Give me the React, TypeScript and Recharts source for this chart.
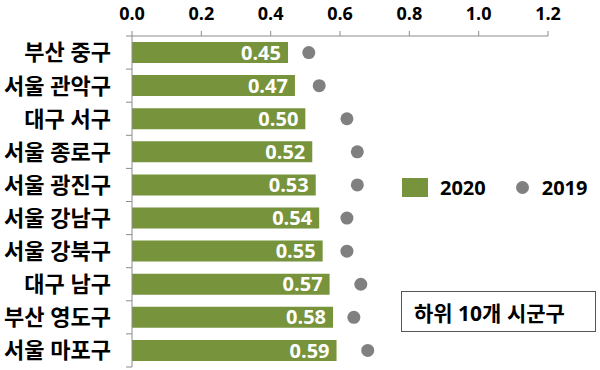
import React from 'react';
import { ComposedChart, Bar, Line, XAxis, YAxis, LabelList } from 'recharts';

const categories = ['부산 중구', '서울 관악구', '대구 서구', '서울 종로구', '서울 광진구', '서울 강남구', '서울 강북구', '대구 남구', '부산 영도구', '서울 마포구'];
const values2020 = [0.45, 0.47, 0.5, 0.52, 0.53, 0.54, 0.55, 0.57, 0.58, 0.59];
const values2019 = [0.51, 0.54, 0.62, 0.65, 0.65, 0.62, 0.62, 0.66, 0.64, 0.68];
const xTicks = [0, 0.2, 0.4, 0.6, 0.8, 1.0, 1.2];
const seriesNames = ['2020', '2019'];
const boxTitle = '하위 10개 시군구';

const data = categories.map((name, i) => ({ name, v2020: values2020[i], v2019: values2019[i] }));

const FONT = "'Open Sans', 'Noto Sans CJK KR', sans-serif";
const GREEN = '#77933C';
const GRAY = '#808080';
const AXIS = '#8c8c8c';

const CategoryTick = (props: any) => {
  const { x, y, payload, index } = props;
  const half = payload && typeof payload.offset === 'number' && payload.offset > 0 ? payload.offset : 16.5;
  const ax = x + 21;
  return (
    <g>
      <text x={x} y={y} dy="0.36em" textAnchor="end" fontFamily={FONT} fontSize={22} fontWeight={700} fill="#000">
        {payload.value}
      </text>
      <line x1={ax - 6} x2={ax} y1={y - half} y2={y - half} stroke={AXIS} strokeWidth={1} />
      {index === categories.length - 1 && (
        <line x1={ax - 6} x2={ax} y1={y + half} y2={y + half} stroke={AXIS} strokeWidth={1} />
      )}
    </g>
  );
};

export default function App() {
  return (
    <div style={{ position: 'absolute', left: 0, top: 0, width: 600, height: 370, background: '#fff' }}>
      <ComposedChart
        width={600}
        height={370}
        data={data}
        layout="vertical"
        margin={{ top: 0, right: 52, bottom: 3, left: 0 }}
      >
        <XAxis
          type="number"
          orientation="top"
          domain={[0, 1.2]}
          ticks={xTicks}
          tickFormatter={(v: number) => v.toFixed(1)}
          height={36}
          tickSize={5}
          tickMargin={11}
          axisLine={{ stroke: AXIS }}
          tickLine={{ stroke: AXIS }}
          tick={{ fill: '#000', fontFamily: FONT, fontSize: 18, fontWeight: 700 }}
          interval={0}
        />
        <YAxis
          type="category"
          dataKey="name"
          width={132}
          tickSize={0}
          tickMargin={21}
          tickLine={false}
          axisLine={{ stroke: AXIS }}
          tick={<CategoryTick />}
          interval={0}
        />
        <Bar dataKey="v2020" name={seriesNames[0]} fill={GREEN} barSize={21} isAnimationActive={false}>
          <LabelList
            dataKey="v2020"
            position="insideRight"
            offset={7}
            fill="#fff"
            fontFamily={FONT}
            fontSize={20}
            fontWeight={700}
            formatter={(v: any) => Number(v).toFixed(2)}
          />
        </Bar>
        <Line
          dataKey="v2019"
          name={seriesNames[1]}
          stroke="none"
          strokeWidth={0}
          dot={{ r: 6.5, fill: GRAY, stroke: 'none' }}
          activeDot={false}
          isAnimationActive={false}
        />
      </ComposedChart>
      <div style={{ position: 'absolute', left: 402, top: 178, display: 'flex', alignItems: 'center', fontFamily: FONT, fontSize: 20, fontWeight: 700, color: '#000', lineHeight: '19px' }}>
        <span style={{ display: 'inline-block', width: 26, height: 19, background: GREEN }} />
        <span style={{ marginLeft: 12 }}>{seriesNames[0]}</span>
        <span style={{ display: 'inline-block', width: 13, height: 13, borderRadius: '50%', background: GRAY, marginLeft: 30 }} />
        <span style={{ marginLeft: 13 }}>{seriesNames[1]}</span>
      </div>
      <div style={{ position: 'absolute', left: 401, top: 291, width: 193, height: 39, border: '1px solid #555', boxSizing: 'content-box', display: 'flex', alignItems: 'center', fontFamily: FONT, fontSize: 21, fontWeight: 700, color: '#000' }}>
        <span style={{ marginLeft: 12 }}>{boxTitle}</span>
      </div>
    </div>
  );
}
